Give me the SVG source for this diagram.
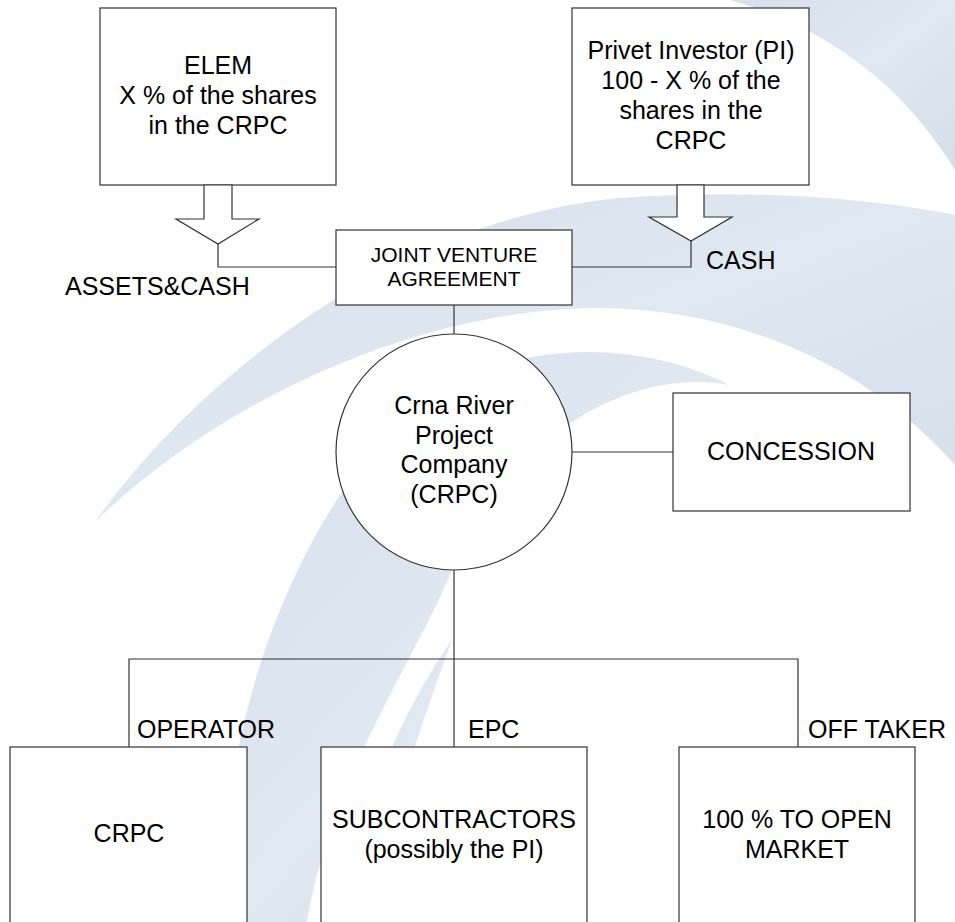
<svg xmlns="http://www.w3.org/2000/svg" width="955" height="922" viewBox="0 0 955 922">
<defs>
<style>
.box{fill:#fff;stroke:#333;stroke-width:1.2}
.ln{fill:none;stroke:#333;stroke-width:1.2}
.t{font-family:"Liberation Sans",Arial,sans-serif;font-size:25px;fill:#000}
.c{text-anchor:middle}
.s{font-size:21px}
.bg{fill:url(#wg)}
</style>
<linearGradient id="wg" x1="0" y1="0" x2="1" y2="1">
<stop offset="0" stop-color="#d6e0ec"/>
<stop offset="0.5" stop-color="#e0e8f1"/>
<stop offset="1" stop-color="#d4deea"/>
</linearGradient>
</defs>
<rect width="955" height="922" fill="#fff"/>
<g id="watermark">
<path class="bg" d="M730,0 L955,0 L955,170 C900,80 820,25 730,0 Z"/>
<path class="bg" d="M95,522 C180,400 380,220 620,198 C760,188 880,200 955,215 L955,465 C880,380 760,310 600,308 C420,308 220,400 95,522 Z"/>
<path class="bg" d="M225,922 C215,720 300,520 400,420 C480,345 620,330 730,385 C620,365 500,450 453,568 C410,670 330,780 307,922 Z"/>
<path class="bg" d="M452,640 C430,700 395,800 365,922 L335,922 C355,830 395,720 452,640 Z"/>
</g>
<g id="connectors">
<polyline class="ln" points="218,244 218,267 336,267"/>
<polyline class="ln" points="691,241 691,267 572,267"/>
<line class="ln" x1="454" y1="305" x2="454" y2="334"/>
<line class="ln" x1="572" y1="452" x2="673" y2="452"/>
<line class="ln" x1="454" y1="570" x2="454" y2="747"/>
<polyline class="ln" points="129,747 129,659 798,659 798,747"/>
</g>
<g id="elem">
<rect class="box" x="100" y="8" width="236" height="177"/>
<text class="t c" x="218" y="74">ELEM</text>
<text class="t c" x="218" y="104">X % of the shares</text>
<text class="t c" x="218" y="134">in the CRPC</text>
</g>
<g id="elem-arrow">
<polygon class="box" points="204,185 232,185 232,219 259,219 218,244 176,219 204,219"/>
<text class="t" x="65" y="295">ASSETS&amp;CASH</text>
</g>
<g id="pi">
<rect class="box" x="572" y="8" width="237" height="177"/>
<text class="t c" x="691" y="59">Privet Investor (PI)</text>
<text class="t c" x="691" y="89">100 - X % of the</text>
<text class="t c" x="691" y="119">shares in the</text>
<text class="t c" x="691" y="149">CRPC</text>
</g>
<g id="pi-arrow">
<polygon class="box" points="677,185 704,185 704,217 732,217 691,241 649,217 677,217"/>
<text class="t" x="706" y="269">CASH</text>
</g>
<g id="jv">
<rect class="box" x="336" y="230" width="236" height="75"/>
<text class="t c s" x="454" y="262">JOINT VENTURE</text>
<text class="t c s" x="454" y="286">AGREEMENT</text>
</g>
<g id="crpc">
<circle class="box" cx="454" cy="452" r="118"/>
<text class="t c" x="454" y="414">Crna River</text>
<text class="t c" x="454" y="443.5">Project</text>
<text class="t c" x="454" y="473">Company</text>
<text class="t c" x="454" y="502.5">(CRPC)</text>
</g>
<g id="concession">
<rect class="box" x="673" y="393" width="237" height="118"/>
<text class="t c" x="791" y="460">CONCESSION</text>
</g>
<g id="operator">
<text class="t" x="137" y="738">OPERATOR</text>
<rect class="box" x="10" y="747" width="237" height="200"/>
<text class="t c" x="129" y="842">CRPC</text>
</g>
<g id="epc">
<text class="t" x="468" y="738">EPC</text>
<rect class="box" x="321" y="747" width="266" height="200"/>
<text class="t c" x="454" y="828">SUBCONTRACTORS</text>
<text class="t c" x="454" y="858">(possibly the PI)</text>
</g>
<g id="offtaker">
<text class="t" x="808" y="738">OFF TAKER</text>
<rect class="box" x="679" y="747" width="236" height="200"/>
<text class="t c" x="797" y="828">100 % TO OPEN</text>
<text class="t c" x="797" y="858">MARKET</text>
</g>
</svg>
